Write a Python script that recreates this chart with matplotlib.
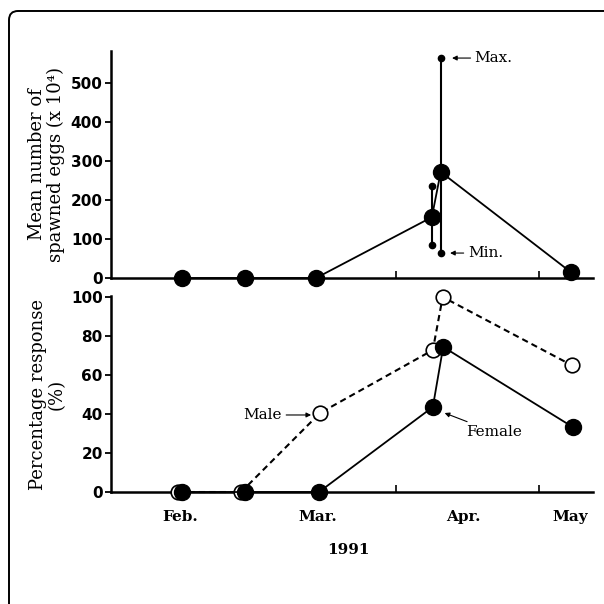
import matplotlib
matplotlib.use("Agg")
import matplotlib.pyplot as plt
from matplotlib.patches import FancyBboxPatch

# x-Werte als Tag im Jahr 1991 (aus dem Bild abgeschaetzt)
egg_days = [32.0, 44.8, 59.2, 82.7, 84.5, 110.9]
egg_mean = [0, 0, 0, 156, 272, 15]
err_days = [82.7, 84.5]
err_min = [85, 64]
err_max = [236, 564]

male_days = [31.2, 44.0, 60.0, 82.9, 84.9, 111.1]
male_pct = [0, 0, 40.5, 72.8, 100, 65]
female_days = [32.0, 44.8, 59.8, 82.9, 85.0, 111.3]
female_pct = [0, 0, 0, 43.6, 74.4, 33.3]

month_pos = [31.6, 59.6, 89.0, 110.7]
month_labels = ["Feb.", "Mar.", "Apr.", "May"]
minor_pos = [75.4, 104.4]

XLIM = (17.6, 115.4)
serif = "DejaVu Serif"
tickfont = dict(family="DejaVu Sans", weight="bold", size=11)

fig = plt.figure(figsize=(6.04, 6.04), dpi=100)

# Rahmen mit runder Ecke oben links
frame = FancyBboxPatch((9 / 604, -0.05), 1.1, 0.9818 + 0.05,
                       boxstyle="round,pad=0,rounding_size=0.015",
                       transform=fig.transFigure, fill=False,
                       lw=1.4, ec="black")
fig.patches.append(frame)

ax1 = fig.add_axes([0.1838, 0.5397, 0.798, 0.3758])
ax2 = fig.add_axes([0.1838, 0.1854, 0.798, 0.3245])

for ax in (ax1, ax2):
    ax.set_xlim(*XLIM)
    ax.spines["top"].set_visible(False)
    ax.spines["right"].set_visible(False)
    ax.spines["left"].set_linewidth(1.8)
    ax.spines["bottom"].set_linewidth(1.8)
    ax.tick_params(axis="y", direction="out", length=4, width=1.3, pad=2)
    ax.set_xticks(minor_pos)
    ax.tick_params(axis="x", direction="in", length=5, width=1.2)
    ax.set_xticklabels([])

# --- oben: Laichmenge ---
ax1.set_ylim(0, 582)
ax1.set_yticks([0, 100, 200, 300, 400, 500])
ax1.set_yticklabels(["0", "100", "200", "300", "400", "500"], **tickfont)
ax1.plot(egg_days, egg_mean, "-", color="black", lw=1.3,
         marker="o", ms=11.5, clip_on=False, zorder=3)
for d, lo, hi in zip(err_days, err_min, err_max):
    ax1.plot([d, d], [lo, hi], "-", color="black", lw=1.5,
             marker="o", ms=4.5, zorder=2)
ax1.annotate("Max.", xy=(86.8, 564), xytext=(91.4, 564), ha="left",
             va="center", family=serif, size=11,
             arrowprops=dict(arrowstyle="-|>", lw=0.8, color="black",
                             mutation_scale=7, shrinkA=1, shrinkB=0))
ax1.annotate("Min.", xy=(86.4, 64), xytext=(90.0, 64), ha="left",
             va="center", family=serif, size=11,
             arrowprops=dict(arrowstyle="-|>", lw=0.8, color="black",
                             mutation_scale=7, shrinkA=1, shrinkB=0))
ax1.set_ylabel("Mean number of\nspawned eggs (x 10⁴)", family=serif,
               size=13, linespacing=1.05)
ax1.yaxis.set_label_coords(-0.095, 0.5)

# --- unten: Prozentuale Reaktion ---
ax2.set_ylim(0, 100.5)
ax2.set_yticks([0, 20, 40, 60, 80, 100])
ax2.set_yticklabels(["0", "20", "40", "60", "80", "100"], **tickfont)
ax2.plot(male_days, male_pct, linestyle=(0, (3, 2)), color="black", lw=1.5,
         marker="o", ms=10.5, mfc="white", mec="black", mew=1.2,
         clip_on=False, zorder=3)
ax2.plot(female_days, female_pct, "-", color="black", lw=1.3,
         marker="o", ms=11.5, clip_on=False, zorder=4)
ax2.annotate("Male", xy=(58.2, 39.5), xytext=(52.3, 39.5), ha="right",
             va="center", family=serif, size=11,
             arrowprops=dict(arrowstyle="-|>", lw=0.8, color="black",
                             mutation_scale=7, shrinkA=1, shrinkB=0))
ax2.annotate("Female", xy=(85.3, 40.5), xytext=(89.6, 30.8), ha="left",
             va="center", family=serif, size=11,
             arrowprops=dict(arrowstyle="-|>", lw=0.8, color="black",
                             mutation_scale=7, shrinkA=1, shrinkB=0))
ax2.set_ylabel("Percentage response\n(%)", family=serif, size=13,
               linespacing=1.05)
ax2.yaxis.set_label_coords(-0.095, 0.5)

# Monatsbeschriftung unter der unteren Achse
for pos, lab in zip(month_pos, month_labels):
    ax2.text(pos, -0.13, lab, transform=ax2.get_xaxis_transform(),
             ha="center", va="center", family=serif, weight="bold", size=11)
fig.text(348 / 604, 1 - 550 / 604, "1991", ha="center", va="center",
         family=serif, weight="bold", size=11)

fig.savefig("out.png", dpi=100)
